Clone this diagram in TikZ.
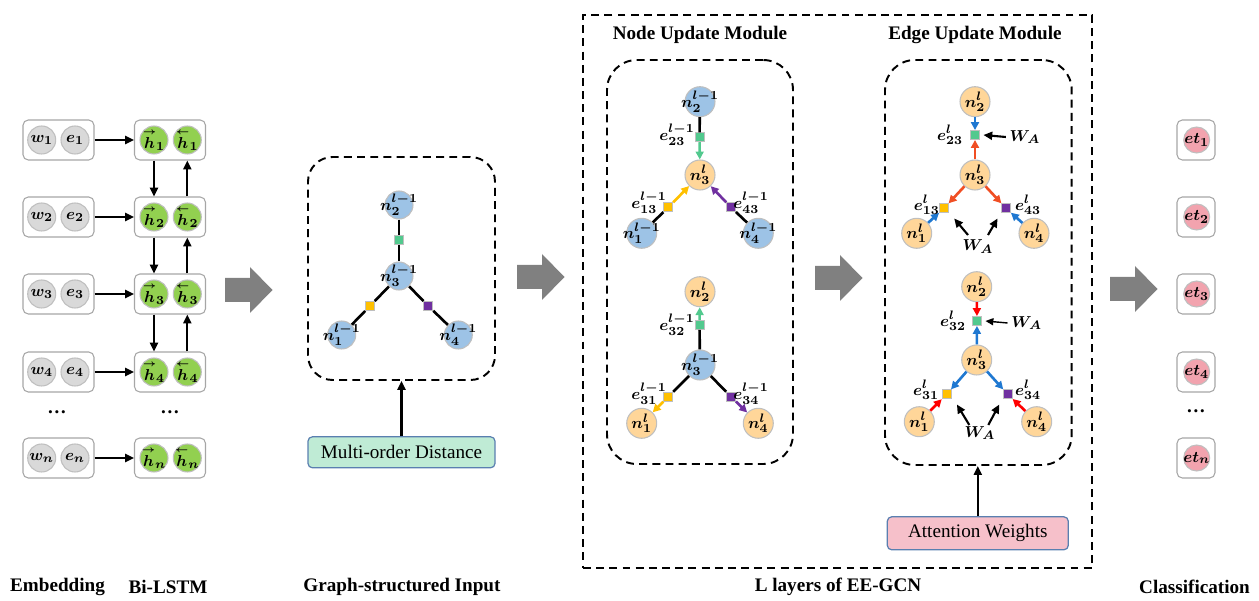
\documentclass[tikz,border=0pt]{standalone}
\usepackage{amsmath}
\usepackage{fontspec}
\setmainfont{Liberation Serif}
\usetikzlibrary{arrows.meta,fit}
\definecolor{embgray}{HTML}{D9D9D9}
\definecolor{lstmgreen}{HTML}{92D050}
\definecolor{nblue}{HTML}{9DC3E6}
\definecolor{norange}{HTML}{FFD699}
\definecolor{npink}{HTML}{F2A3AE}
\definecolor{cborder}{HTML}{BFBFBF}
\definecolor{boxgray}{HTML}{A6A6A6}
\definecolor{sqgreen}{HTML}{52C98E}
\definecolor{sqyellow}{HTML}{FFC000}
\definecolor{sqpurple}{HTML}{7030A0}
\definecolor{arblue}{HTML}{1F78D1}
\definecolor{arorange}{HTML}{F04E23}
\definecolor{arred}{HTML}{FF0000}
\definecolor{modfill}{HTML}{BFEBD5}
\definecolor{attfill}{HTML}{F6C0CA}
\definecolor{lblue}{HTML}{5A7FB0}
\definecolor{bigarrow}{HTML}{808080}
\newcommand\mylbl{\fontsize{9.5}{10}\selectfont\boldmath}
\newcommand\zl[1]{\makebox[0pt]{#1}}
\newcommand\hf{{\overset{\scriptscriptstyle\rightarrow}{h}}}
\newcommand\hb{{\overset{\scriptscriptstyle\leftarrow}{h}}}
\newcommand\grarrow[2]{\fill[bigarrow] (#1,#2) ++(0,-12) -- ++(25,0) -- ++(0,-11) -- ++(22.5,23) -- ++(-22.5,23) -- ++(0,-11) -- ++(-25,0) -- cycle;}
\begin{document}
\begin{tikzpicture}[x=0.02cm,y=-0.02cm,
  rbox/.style={draw=boxgray, line width=0.6pt, fill=white, rounded corners=3pt, minimum width={71*0.02cm}, minimum height={40*0.02cm}, inner sep=0},
  cbox/.style={rbox, minimum width={38*0.02cm}},
  circ/.style={circle, draw=cborder, line width=0.6pt, inner sep=0, minimum size={28*0.02cm}, font=\mylbl},
  gcirc/.style={circ, fill=embgray},
  hcirc/.style={circ, fill=lstmgreen},
  bcirc/.style={circ, fill=nblue},
  bbcirc/.style={circ, fill=nblue, minimum size={30*0.02cm}},
  ocirc/.style={circ, fill=norange, minimum size={30*0.02cm}},
  pcirc/.style={circ, fill=npink, minimum size={26*0.02cm}},
  sq/.style={rectangle, draw=cborder, line width=0.5pt, inner sep=0, minimum size={9*0.02cm}},
  blk/.style={line width=1.2pt, -{Triangle[length=5pt,width=4.5pt]}},
  con/.style={line width=1.5pt},
  carr/.style={line width=1.5pt, -{Triangle[length=4.5pt,width=4.5pt]}},
  thinarr/.style={line width=0.8pt, -{Triangle[length=4.5pt,width=4pt]}},
  elab/.style={inner sep=0, font=\mylbl},
  dbox/.style={draw, dash pattern=on 4.5pt off 3pt, line width=1.1pt, inner sep=0},
  title/.style={font=\fontsize{10.9}{13}\selectfont\bfseries, inner sep=0},
  plain/.style={font=\fontsize{10.9}{13}\selectfont, inner sep=0},
  dots/.style={font=\fontsize{10.9}{13}\selectfont\bfseries, inner sep=0}
]
\useasboundingbox (0,0) rectangle (1259,601);

% ---------- Embedding and Bi-LSTM ----------
\foreach \i/\y in {1/140,2/217,3/294,4/372,n/458}{
  \node[rbox] (emb\i) at (58.5,\y) {};
  \node[gcirc] (w\i) at (41.7,\y) {\zl{$w_{\i}$}};
  \node[gcirc] (e\i) at (75,\y) {\zl{$e_{\i}$}};
  \node[rbox] (lstm\i) at (170,\y) {};
  \node[hcirc] (hf\i) at (154,\y) {\zl{$\hf_{\i}$}};
  \node[hcirc] (hb\i) at (187.3,\y) {\zl{$\hb_{\i}$}};
  \draw[blk] (emb\i) -- (lstm\i);
}
\foreach \i/\j in {1/2,2/3,3/4}{
  \draw[blk] (hf\i |- lstm\i.south) -- (hf\j |- lstm\j.north);
  \draw[blk] (hb\j |- lstm\j.north) -- (hb\i |- lstm\i.south);
}
\node[dots] (dl) at (57,412) {\dots};
\node[dots] (dr) at (170,412) {\dots};

\grarrow{225}{290}

% ---------- Graph-structured input ----------
\node[dbox, rounded corners=14pt, fit={(308,157) (495,380)}] (gbox) {};
\node[bcirc] (gn2) at (399,205) {\zl{$n_2^{l-1}$}};
\node[bcirc] (gn3) at (399,276) {\zl{$n_3^{l-1}$}};
\node[bcirc] (gn1) at (341.7,335) {\zl{$n_1^{l-1}$}};
\node[bcirc] (gn4) at (458.3,335) {\zl{$n_4^{l-1}$}};
\node[sq, fill=sqgreen] (gs2) at (399,240) {};
\node[sq, fill=sqyellow] (gs1) at (370,306) {};
\node[sq, fill=sqpurple] (gs4) at (428.3,306) {};
\draw[con] (gn2) -- (gs2) -- (gn3);
\draw[con] (gn3) -- (gs1) -- (gn1);
\draw[con] (gn3) -- (gs4) -- (gn4);
\node[draw=lblue, fill=modfill, line width=0.7pt, rounded corners=2.5pt, minimum width={187*0.02cm}, minimum height={31*0.02cm}, plain] (mod) at (401.5,452.3) {Multi-order Distance};
\draw[blk] (mod.north) -- (mod.north |- gbox.south);

\grarrow{517}{277}

% ---------- EE-GCN ----------
\node[dbox, fit={(583,15) (1092,568)}] (gcn) {};
\node[title] (tnode) at (700,35) {Node Update Module};
\node[title] (tedge) at (975,35) {Edge Update Module};

% Node update module
\node[dbox, rounded corners=17pt, fit={(607,60) (793,464)}] (nbox) {};
\node[bbcirc] (a2) at (700,101.7) {\zl{$n_2^{l-1}$}};
\node[ocirc] (a3) at (700,175) {\zl{$n_3^{l}$}};
\node[bbcirc] (a1) at (641.7,233.3) {\zl{$n_1^{l-1}$}};
\node[bbcirc] (a4) at (758.3,233.3) {\zl{$n_4^{l-1}$}};
\node[sq, fill=sqgreen] (as2) at (699.5,137.3) {};
\node[sq, fill=sqyellow] (as1) at (668.3,207.3) {};
\node[sq, fill=sqpurple] (as4) at (731,207.3) {};
\draw[con] (a2) -- (as2);
\draw[carr, sqgreen] (as2) -- (a3);
\draw[con] (a1) -- (as1);
\draw[carr, sqyellow] (as1) -- (a3);
\draw[con] (a4) -- (as4);
\draw[carr, sqpurple] (as4) -- (a3);
\node[elab] (la2) at (677,135) {$e_{23}^{l-1}$};
\node[elab] (la1) at (649,203) {$e_{13}^{l-1}$};
\node[elab] (la4) at (751,203) {$e_{43}^{l-1}$};

\node[ocirc] (b2) at (700,291.7) {\zl{$n_2^{l}$}};
\node[bbcirc] (b3) at (700,365) {\zl{$n_3^{l-1}$}};
\node[ocirc] (b1) at (641.7,423.3) {\zl{$n_1^{l}$}};
\node[ocirc] (b4) at (758.3,423.3) {\zl{$n_4^{l}$}};
\node[sq, fill=sqgreen] (bs2) at (699.5,325) {};
\node[sq, fill=sqyellow] (bs1) at (668.3,396.7) {};
\node[sq, fill=sqpurple] (bs4) at (731,396.7) {};
\draw[con] (b3) -- (bs2);
\draw[carr, sqgreen] (bs2) -- (b2);
\draw[con] (b3) -- (bs1);
\draw[carr, sqyellow] (bs1) -- (b1);
\draw[con] (b3) -- (bs4);
\draw[carr, sqpurple] (bs4) -- (b4);
\node[elab] (lb2) at (677,325) {$e_{32}^{l-1}$};
\node[elab] (lb1) at (649,394) {$e_{31}^{l-1}$};
\node[elab] (lb4) at (751,394) {$e_{34}^{l-1}$};

\grarrow{815}{278}

% Edge update module
\node[dbox, rounded corners=17pt, fit={(885,60) (1071.7,465)}] (ebox) {};
\node[ocirc] (c2) at (975,101.7) {\zl{$n_2^{l}$}};
\node[ocirc] (c3) at (975,175) {\zl{$n_3^{l}$}};
\node[ocirc] (c1) at (916.7,233.3) {\zl{$n_1^{l}$}};
\node[ocirc] (c4) at (1034,233.3) {\zl{$n_4^{l}$}};
\node[sq, fill=sqgreen] (cs2) at (975,135) {};
\node[sq, fill=sqyellow] (cs1) at (944,208.3) {};
\node[sq, fill=sqpurple] (cs4) at (1006,208.3) {};
\draw[carr, arblue] (c2) -- (cs2);
\draw[carr, arorange] (c3) -- (cs2);
\draw[carr, arorange] (c3) -- (cs1);
\draw[carr, arorange] (c3) -- (cs4);
\draw[carr, arblue] (c1) -- (cs1);
\draw[carr, arblue] (c4) -- (cs4);
\node[elab] (lc2) at (950,135) {$e_{23}^{l}$};
\node[elab] (lc1) at (926.7,205) {$e_{13}^{l}$};
\node[elab] (lc4) at (1028,205) {$e_{43}^{l}$};
\node[elab] (wc2) at (1025,137) {$W_A$};
\draw[blk] ([xshift=-2pt]wc2.west) -- ([xshift=2pt]cs2.east);
\node[elab] (wcb) at (978,246.7) {$W_A$};
\coordinate (wcbl) at (968,235);
\coordinate (wcbr) at (988,235);
\draw[blk] (wcbl) -- ([shift={(3pt,-3pt)}]cs1.south east);
\draw[blk] (wcbr) -- ([shift={(-2pt,-3pt)}]cs4.south west);

\node[ocirc] (d2) at (976.7,286.7) {\zl{$n_2^{l}$}};
\node[ocirc] (d3) at (976.7,360) {\zl{$n_3^{l}$}};
\node[ocirc] (d1) at (919.3,421.7) {\zl{$n_1^{l}$}};
\node[ocirc] (d4) at (1036.7,421.7) {\zl{$n_4^{l}$}};
\node[sq, fill=sqgreen] (ds2) at (977,321) {};
\node[sq, fill=sqyellow] (ds1) at (946.7,394.3) {};
\node[sq, fill=sqpurple] (ds4) at (1007.7,394.3) {};
\draw[carr, arred] (d2) -- (ds2);
\draw[carr, arblue] (d3) -- (ds2);
\draw[carr, arblue] (d3) -- (ds1);
\draw[carr, arblue] (d3) -- (ds4);
\draw[carr, arred] (d1) -- (ds1);
\draw[carr, arred] (d4) -- (ds4);
\node[elab] (ld2) at (953,321) {$e_{32}^{l}$};
\node[elab] (ld1) at (926,390) {$e_{31}^{l}$};
\node[elab] (ld4) at (1028,390) {$e_{34}^{l}$};
\node[elab] (wd2) at (1026.7,323) {$W_A$};
\draw[thinarr] ([xshift=-2pt]wd2.west) -- ([xshift=2pt]ds2.east);
\node[elab] (wdb) at (980,433) {$W_A$};
\coordinate (wdbl) at (969.3,425);
\coordinate (wdbr) at (988.3,425);
\draw[blk] (wdbl) -- ([shift={(3pt,-3pt)}]ds1.south east);
\draw[blk] (wdbr) -- ([shift={(-2pt,-3pt)}]ds4.south west);

\node[draw=lblue, fill=attfill, line width=0.7pt, rounded corners=2.5pt, minimum width={181*0.02cm}, minimum height={33*0.02cm}, plain] (att) at (977.8,533.3) {Attention Weights};
\draw[blk] (att.north) -- (att.north |- ebox.south);

\grarrow{1110}{289}

% ---------- Classification ----------
\foreach \i/\y in {1/140,2/217,3/294,4/372,n/458}{
  \node[cbox] (cls\i) at (1196,\y) {};
  \node[pcirc] (et\i) at (1196.7,\y) {\zl{$et_{\i}$}};
}
\node[dots] (dc) at (1196,411) {\dots};

% ---------- Bottom labels ----------
\node[title] (lemb) at (57.5,587) {Embedding};
\node[title] (llstm) at (168,587) {Bi-LSTM};
\node[title] (lgraph) at (402,587) {Graph-structured Input};
\node[title] (lgcn) at (838,587) {L layers of EE-GCN};
\node[title] (lcls) at (1194.5,587) {Classification};
\end{tikzpicture}
\end{document}
